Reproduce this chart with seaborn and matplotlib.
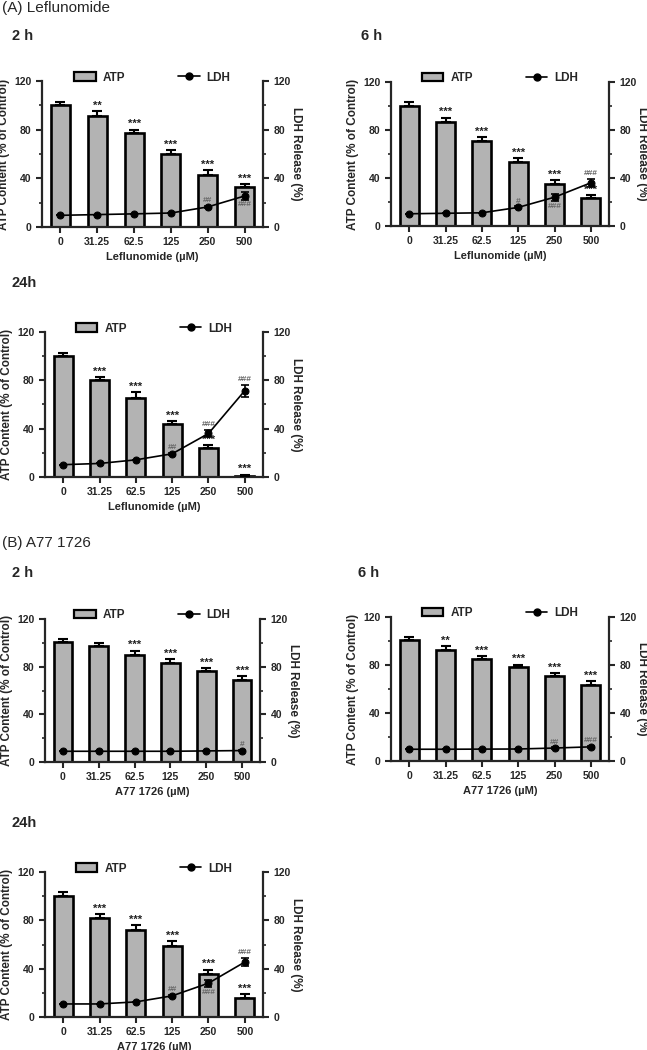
import numpy as np
import pandas as pd
import seaborn as sns
import matplotlib
matplotlib.use("Agg")
import matplotlib.pyplot as plt
from matplotlib.patches import Patch
from matplotlib.lines import Line2D

# ---------------- data ----------------
doses = ["0", "31.25", "62.5", "125", "250", "500"]

# (A) Leflunomide
atp_lef_2h = [100, 91.5, 77, 60, 42.5, 32.5]
atp_err_lef_2h = [2.5, 4, 3, 3, 4, 3]
ldh_lef_2h = [9.6, 10.2, 10.8, 11.5, 16.5, 25.5]
ldh_err_lef_2h = [0, 0, 0, 0, 0.8, 3]
atp_sig_lef_2h = ["", "**", "***", "***", "***", "***"]
ldh_sig_lef_2h = ["", "", "", "", "##", "###"]
ldh_side_lef_2h = [0, 0, 0, 0, 1, -1]

atp_lef_6h = [100, 86.4, 71, 53.5, 35, 23.5]
atp_err_lef_6h = [3, 4, 3, 3, 3, 2.5]
ldh_lef_6h = [10.2, 10.6, 11.0, 15.5, 24, 36]
ldh_err_lef_6h = [0, 0, 0, 0.8, 3, 3.5]
atp_sig_lef_6h = ["", "***", "***", "***", "***", "***"]
ldh_sig_lef_6h = ["", "", "", "#", "###", "###"]
ldh_side_lef_6h = [0, 0, 0, 1, -1, 1]

atp_lef_24h = [100, 80, 65, 43.5, 24, 1]
atp_err_lef_24h = [3, 3, 5, 3, 2.5, 1]
ldh_lef_24h = [10.2, 11.2, 14.2, 19.2, 36, 71.5]
ldh_err_lef_24h = [0, 0, 0, 0.8, 3, 5]
atp_sig_lef_24h = ["", "***", "***", "***", "***", "***"]
ldh_sig_lef_24h = ["", "", "", "##", "###", "###"]
ldh_side_lef_24h = [0, 0, 0, 1, 1, 1]

# (B) A77 1726
atp_a77_2h = [100.5, 97, 89.5, 83, 76, 68.5]
atp_err_a77_2h = [2.6, 3, 4, 3.5, 2.8, 3.4]
ldh_a77_2h = [9, 9, 9, 9, 9.3, 9.6]
ldh_err_a77_2h = [0, 0, 0, 0, 0, 0.5]
atp_sig_a77_2h = ["", "", "***", "***", "***", "***"]
ldh_sig_a77_2h = ["", "", "", "", "", "#"]
ldh_side_a77_2h = [0, 0, 0, 0, 0, 1]

atp_a77_6h = [100.5, 92.8, 85, 78, 70.5, 63]
atp_err_a77_6h = [2.5, 3, 2.2, 2.3, 2.8, 3.6]
ldh_a77_6h = [9.8, 9.8, 9.9, 10, 10.8, 11.8]
ldh_err_a77_6h = [0, 0, 0, 0, 0.5, 0.6]
atp_sig_a77_6h = ["", "**", "***", "***", "***", "***"]
ldh_sig_a77_6h = ["", "", "", "", "##", "###"]
ldh_side_a77_6h = [0, 0, 0, 0, 1, 1]

atp_a77_24h = [100, 81.7, 72.3, 59, 35.6, 16]
atp_err_a77_24h = [3.3, 3.5, 3.6, 3.6, 3.6, 3]
ldh_a77_24h = [10.8, 10.8, 12.5, 17.5, 28, 45.5]
ldh_err_a77_24h = [0, 0, 0, 0.8, 3, 3.5]
atp_sig_a77_24h = ["", "***", "***", "***", "***", "***"]
ldh_sig_a77_24h = ["", "", "", "##", "###", "###"]
ldh_side_a77_24h = [0, 0, 0, 1, -1, 1]

# ---------------- style ----------------
sns.set_theme(style="ticks")
plt.rcParams["font.family"] = ["Liberation Sans", "DejaVu Sans"]
plt.rcParams["font.weight"] = "bold"
plt.rcParams["axes.labelweight"] = "bold"

W, H = 647, 1050
fig = plt.figure(figsize=(W / 100, H / 100), dpi=100)
BAR = "#b3b3b3"


def rect(x0, y0, x1, y1):
    return [x0 / W, 1 - y1 / H, (x1 - x0) / W, (y1 - y0) / H]


def panel(r, atp, atp_err, ldh, ldh_err, atp_sig, ldh_sig, side, xlabel):
    ax = fig.add_axes(rect(*r))
    df = pd.DataFrame({"dose": doses, "atp": atp})
    sns.barplot(data=df, x="dose", y="atp", color=BAR, saturation=1,
                edgecolor="black", linewidth=1.9, width=0.52,
                errorbar=None, ax=ax)
    n = len(doses)
    ax.errorbar(np.arange(n), atp, yerr=[np.zeros(n), atp_err], fmt="none",
                ecolor="black", elinewidth=1.5, capsize=3.5, capthick=1.5,
                zorder=3)
    ax.set_xlim(-0.5, n - 0.5)
    ax.set_ylim(0, 120)
    ax.set_yticks([0, 40, 80, 120])
    ax.set_yticks([20, 60, 100], minor=True)
    ax.set_xlabel(xlabel, fontsize=8, labelpad=3)
    ax.set_ylabel("ATP Content (% of Control)", fontsize=8.5, labelpad=3)
    for i, s in enumerate(atp_sig):
        if s:
            ax.text(i, atp[i] + atp_err[i] + 0.3, s, ha="center", va="bottom",
                    fontsize=8, color="#222222")

    ax2 = ax.twinx()
    sns.lineplot(x=np.arange(n), y=ldh, ax=ax2, color="black", marker="o",
                 markersize=5, markeredgecolor="black", linewidth=1.2,
                 legend=False)
    ax2.errorbar(np.arange(n), ldh, yerr=ldh_err, fmt="none", ecolor="black",
                 elinewidth=1.2, capsize=2.8, capthick=1.2)
    ax2.set_ylim(0, 120)
    ax2.set_xlim(-0.5, n - 0.5)
    ax2.set_yticks([0, 40, 80, 120])
    ax2.set_yticks([20, 60, 100], minor=True)
    ax2.set_ylabel("LDH Release (%)", fontsize=8.5, rotation=270,
                   labelpad=8)
    for i, s in enumerate(ldh_sig):
        if s:
            if side[i] > 0:
                ax2.text(i, ldh[i] + ldh_err[i] + 1.5, s, ha="center",
                         va="bottom", fontsize=6, color="#666666")
            else:
                ax2.text(i, ldh[i] - ldh_err[i] - 1.5, s, ha="center",
                         va="top", fontsize=6, color="#666666")

    for a in (ax, ax2):
        a.spines["top"].set_visible(False)
        for sp in a.spines.values():
            sp.set_linewidth(1.6)
        a.tick_params(which="major", direction="out", length=4, width=1.5,
                      labelsize=7.5)
        a.tick_params(which="minor", direction="out", length=2.5, width=1.2)
    ax.spines["right"].set_visible(False)
    ax2.spines["left"].set_visible(False)
    ax2.spines["bottom"].set_visible(False)
    for lab in ax.get_xticklabels() + ax.get_yticklabels() + ax2.get_yticklabels():
        lab.set_fontweight("bold")

    handles = [Patch(facecolor=BAR, edgecolor="black", linewidth=1.6),
               Line2D([], [], color="black", marker="o", markersize=5,
                      linewidth=1.2)]
    ax.legend(handles, ["ATP", "LDH"], loc="lower center",
              bbox_to_anchor=(0.5, 0.95), ncol=2, frameon=False,
              columnspacing=4.5, fontsize=8.5, handlelength=1.8,
              handletextpad=0.6, borderaxespad=0)
    return ax


def ftext(x, y, s, size, weight):
    fig.text(x / W, 1 - y / H, s, fontsize=size, fontweight=weight,
             ha="left", va="center")


ftext(2, 8, "(A) Leflunomide", 11, "normal")
ftext(12, 36, "2 h", 10.5, "bold")
ftext(361, 36, "6 h", 10.5, "bold")
ftext(12, 283, "24h", 10.5, "bold")
ftext(2, 543, "(B) A77 1726", 11, "normal")
ftext(12, 573, "2 h", 10.5, "bold")
ftext(358, 573, "6 h", 10.5, "bold")
ftext(12, 823, "24h", 10.5, "bold")

panel((42, 81, 263, 227), atp_lef_2h, atp_err_lef_2h, ldh_lef_2h,
      ldh_err_lef_2h, atp_sig_lef_2h, ldh_sig_lef_2h, ldh_side_lef_2h,
      "Leflunomide (\u00b5M)")
panel((391, 82, 609, 226), atp_lef_6h, atp_err_lef_6h, ldh_lef_6h,
      ldh_err_lef_6h, atp_sig_lef_6h, ldh_sig_lef_6h, ldh_side_lef_6h,
      "Leflunomide (\u00b5M)")
panel((45, 332, 263, 477), atp_lef_24h, atp_err_lef_24h, ldh_lef_24h,
      ldh_err_lef_24h, atp_sig_lef_24h, ldh_sig_lef_24h, ldh_side_lef_24h,
      "Leflunomide (\u00b5M)")
panel((45, 619, 260, 762), atp_a77_2h, atp_err_a77_2h, ldh_a77_2h,
      ldh_err_a77_2h, atp_sig_a77_2h, ldh_sig_a77_2h, ldh_side_a77_2h,
      "A77 1726 (\u00b5M)")
panel((391, 617, 609, 761), atp_a77_6h, atp_err_a77_6h, ldh_a77_6h,
      ldh_err_a77_6h, atp_sig_a77_6h, ldh_sig_a77_6h, ldh_side_a77_6h,
      "A77 1726 (\u00b5M)")
panel((45, 872, 263, 1017), atp_a77_24h, atp_err_a77_24h, ldh_a77_24h,
      ldh_err_a77_24h, atp_sig_a77_24h, ldh_sig_a77_24h, ldh_side_a77_24h,
      "A77 1726 (\u00b5M)")

fig.savefig("out.png", dpi=100, facecolor="white")
